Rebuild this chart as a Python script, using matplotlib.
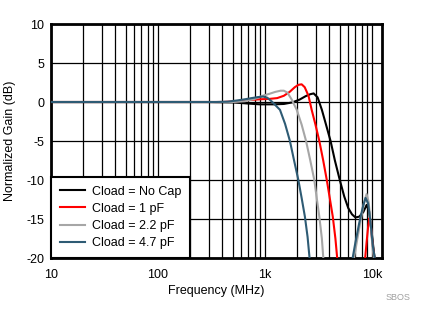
import matplotlib
matplotlib.use('Agg')
import numpy as np
import matplotlib.pyplot as plt
from matplotlib.ticker import FixedLocator, LogLocator, NullFormatter

plt.rcParams['font.family'] = ['Liberation Sans', 'DejaVu Sans']

# frequency (MHz) / normalized gain (dB)
f_nocap = [10, 300, 500, 700, 900, 1200, 1500, 1800, 2100, 2400, 2650, 2850, 3100, 3400,
           3700, 4100, 4500, 5000, 5500, 6000, 6500, 7000, 7600, 8300, 8900, 9400, 9900,
           10400, 10800]
g_nocap = [0, 0, -0.05, -0.2, -0.3, -0.3, -0.25, -0.05, 0.3, 0.75, 1.0, 1.1, 0.6, -1.0,
           -2.8, -5.0, -7.5, -10, -12.1, -13.6, -14.4, -14.8, -14.7, -14.1, -13.2, -14.0,
           -16.5, -19.2, -21]

f_1p = [10, 400, 550, 700, 900, 1100, 1300, 1500, 1700, 1900, 2050, 2200, 2350, 2550, 2730,
        2950, 3220, 3500, 3780, 4050, 4300, 4550, 4800,
        8500, 8900, 9200, 9450, 9700, 10000, 10400, 10800]
g_1p = [0, 0, 0.1, 0.25, 0.35, 0.4, 0.5, 0.8, 1.3, 1.9, 2.2, 2.27, 1.9, 0.8, -1.0,
        -2.8, -5.0, -7.5, -10, -12.5, -14.7, -17.5, -21,
        -21, -18, -16, -14.9, -15.5, -17.5, -19.5, -21]

f_2p2 = [10, 500, 650, 800, 950, 1100, 1250, 1400, 1500, 1620, 1780, 1980, 2200, 2420, 2650,
         2890, 3050, 3220, 3400, 3550,
         6600, 7200, 7800, 8400, 8900, 9300, 9700, 10100, 10600]
g_2p2 = [0, 0, 0.1, 0.4, 0.8, 1.05, 1.3, 1.45, 1.45, 1.2, 0.3, -1.0, -2.9, -5.0, -7.5,
         -10, -12.4, -14.7, -17.5, -21,
         -21, -18, -15.3, -13, -11.8, -12.8, -15.5, -18.5, -21]

f_4p7 = [10, 350, 450, 550, 650, 750, 850, 960, 1050, 1150, 1250, 1380, 1540, 1710, 1870,
         2050, 2200, 2360, 2500, 2650,
         6400, 7000, 7600, 8200, 8700, 9200, 9700, 10200, 10900]
g_4p7 = [0, 0, 0.05, 0.2, 0.35, 0.5, 0.62, 0.7, 0.55, 0.1, -0.4, -1.0, -2.8, -5.0, -7.5,
         -10, -12.3, -14.7, -17.3, -21,
         -21, -18, -15.5, -13.5, -12.3, -13, -15.5, -18.5, -21]

labels = ['Cload = No Cap', 'Cload = 1 pF', 'Cload = 2.2 pF', 'Cload = 4.7 pF']
colors = ['#000000', '#FF0000', '#A6A6A6', '#2E5B74']

xticks = [10, 100, 1000, 10000]
xticklabels = ['10', '100', '1k', '10k']
yticks = [-20, -15, -10, -5, 0, 5, 10]

fig = plt.figure(figsize=(4.26, 3.24), dpi=100)
ax = fig.add_axes([0.1197, 0.2037, 0.777, 0.7222])

for f, g, lab, c in zip([f_nocap, f_1p, f_2p2, f_4p7], [g_nocap, g_1p, g_2p2, g_4p7],
                        labels, colors):
    ax.plot(f, g, color=c, lw=1.5, label=lab, zorder=3)

ax.set_xscale('log')
ax.set_xlim(10, 12400)
ax.set_ylim(-20, 10)
ax.xaxis.set_major_locator(FixedLocator(xticks))
ax.set_xticklabels(xticklabels)
ax.xaxis.set_minor_locator(LogLocator(base=10, subs=np.arange(2, 10)))
ax.xaxis.set_minor_formatter(NullFormatter())
ax.set_yticks(yticks)
ax.set_yticklabels([str(v) for v in yticks])
ax.tick_params(which='both', length=0, labelsize=9)
ax.tick_params(axis='x', pad=8)
ax.tick_params(axis='y', pad=5)
ax.grid(True, which='both', axis='x', color='black', lw=0.9)
ax.grid(True, which='major', axis='y', color='black', lw=0.9)
for s in ax.spines.values():
    s.set_linewidth(2)

ax.set_xlabel('Frequency (MHz)', fontsize=9, labelpad=3)
ax.set_ylabel('Normalized Gain (dB)', fontsize=9, labelpad=7)

leg = ax.legend(loc='lower left', borderaxespad=0, fontsize=9, fancybox=False,
                framealpha=1, edgecolor='black', handlelength=2.0, handletextpad=0.6,
                labelspacing=0.42, borderpad=0.7)
leg.get_frame().set_linewidth(1.5)
leg.set_zorder(5)

fig.text(0.935, 0.083, 'SBOS', fontsize=6.5, color='#A0A0A0', ha='center', va='center')

fig.savefig('out.png', dpi=100)
